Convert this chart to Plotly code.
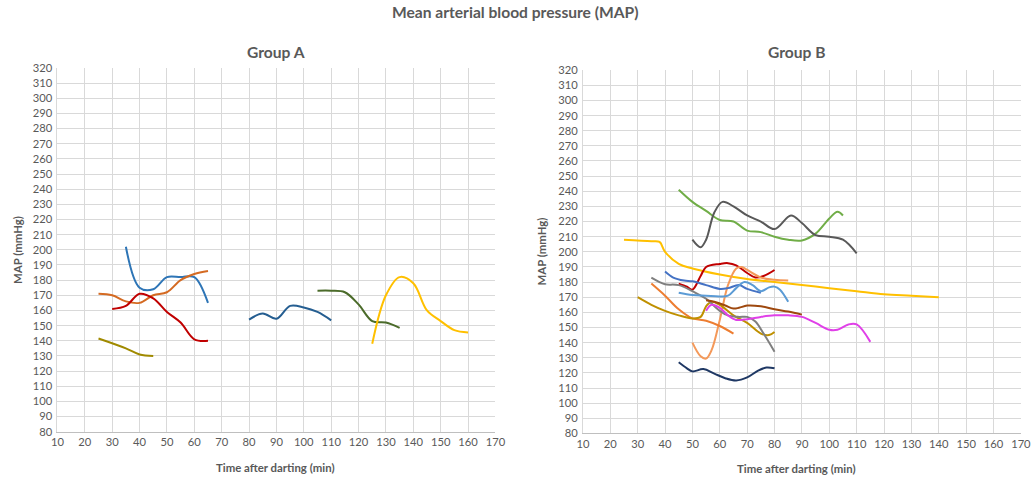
import plotly.graph_objects as go

# ---------------- data ----------------
# Group A series (time in min, MAP in mmHg)
a1_x = [35, 40, 45, 50, 55, 60, 65]
a1_y = [202, 175, 174, 182, 182, 182, 165]
a2_x = [25, 30, 35, 40, 45, 50, 55, 60, 65]
a2_y = [171, 170, 166, 165, 170, 172, 180, 184, 186]
a3_x = [30, 35, 40, 45, 50, 55, 60, 65]
a3_y = [161, 163, 171, 168, 159, 152, 141, 140]
a4_x = [25, 35, 40, 45]
a4_y = [141.5, 135, 131, 130]
a5_x = [80, 85, 90, 95, 100, 105, 110]
a5_y = [154, 158, 154.5, 163, 162, 159, 153.5]
a6_x = [105, 110, 115, 120, 125, 130, 135]
a6_y = [173, 173, 172, 164, 153, 152, 148.5]
a7_x = [125, 130, 135, 140, 145, 150, 155, 160]
a7_y = [138, 170, 182, 178, 160, 153, 147, 145.5]

# Group B series
b1_x = [45, 50, 55, 60, 65, 70, 75, 80, 85, 90, 95, 100, 103, 105]
b1_y = [241, 233, 227, 221, 220, 214, 213, 210, 208, 207.5, 212, 222, 226.5, 224]
b2_x = [50, 53, 55, 58, 61, 65, 70, 75, 80, 86, 90, 95, 100, 105, 110]
b2_y = [208, 203, 208, 226, 233, 230, 224, 220, 215, 224, 219, 211, 210, 208, 199]
b3_x = [25, 35, 38, 40, 45, 50, 60, 70, 80, 90, 100, 110, 120, 130, 140]
b3_y = [208, 207, 206.5, 200, 192, 189, 185, 182, 180, 178, 176, 174, 172, 171, 170]
b4_x = [45, 48, 50, 53, 55, 60, 63, 66, 70, 73, 76, 80]
b4_y = [179, 177, 175, 184, 190, 192, 192.5, 191, 186, 183, 184, 188]
b5_x = [50, 53, 55, 57, 60, 63, 66, 68, 70, 75, 80, 85]
b5_y = [140, 131, 129.5, 135, 155, 178, 189, 190, 188, 183, 181.5, 181]
b6_x = [35, 40, 45, 50, 55, 60, 65]
b6_y = [179, 171, 162, 156, 154.5, 151, 146]
b7_x = [30, 35, 40, 45, 50, 53, 55, 57, 60, 65, 70, 75, 78, 80]
b7_y = [170, 165, 161, 158, 156, 157, 164, 167, 165, 158, 153, 146, 145, 147]
b8_x = [35, 38, 40, 45, 50, 55, 60, 63, 67, 70, 73, 76, 80]
b8_y = [183, 180, 178.5, 178, 174, 169, 161, 158, 157, 157, 154, 146, 134]
b9_x = [40, 43, 47, 50, 55, 60, 63, 67, 70, 75]
b9_y = [187, 183, 181, 180.5, 178, 175.5, 176, 178, 175.5, 173]
b10_x = [45, 50, 55, 60, 63, 66, 69, 72, 75, 78, 80, 82, 85]
b10_y = [173, 171.5, 171, 170.5, 171, 176, 180, 178, 174, 176.5, 177, 175, 167]
b11_x = [55, 58, 62, 65, 67, 70, 75, 80, 85, 90]
b11_y = [168, 167, 164.5, 162.5, 163, 164.5, 164, 162, 160.5, 158.5]
b12_x = [55, 57, 60, 63, 66, 70, 75, 80, 85, 90, 95, 100, 103, 107, 110, 115]
b12_y = [161, 165, 163, 158, 155, 155.5, 157, 158, 158, 157, 153, 148.5, 148.5, 152, 152, 140.5]
b13_x = [45, 48, 50, 54, 58, 62, 66, 70, 74, 77, 80]
b13_y = [127, 123, 121, 122.5, 119.5, 116.5, 115, 117, 121.5, 123.5, 123]

x_ticks = list(range(10, 171, 10))
y_ticks = list(range(80, 321, 10))

group_a = [
    (a1_x, a1_y, "#2E75B6"),
    (a2_x, a2_y, "#D46A22"),
    (a3_x, a3_y, "#C00000"),
    (a4_x, a4_y, "#A08A00"),
    (a5_x, a5_y, "#255E91"),
    (a6_x, a6_y, "#4B6B2A"),
    (a7_x, a7_y, "#FFC000"),
]
group_b = [
    (b1_x, b1_y, "#70AD47"),
    (b2_x, b2_y, "#595959"),
    (b3_x, b3_y, "#FFC000"),
    (b4_x, b4_y, "#C00000"),
    (b5_x, b5_y, "#F4995A"),
    (b6_x, b6_y, "#ED7D31"),
    (b7_x, b7_y, "#BF9000"),
    (b8_x, b8_y, "#7F7F7F"),
    (b9_x, b9_y, "#4472C4"),
    (b10_x, b10_y, "#5B9BD5"),
    (b11_x, b11_y, "#9E480E"),
    (b12_x, b12_y, "#E040E8"),
    (b13_x, b13_y, "#1F3864"),
]

fig = go.Figure()
for xs, ys, c in group_a:
    fig.add_trace(go.Scatter(x=xs, y=ys, mode="lines", line=dict(color=c, width=2, shape="spline"),
                             xaxis="x", yaxis="y", showlegend=False, hoverinfo="x+y"))
for xs, ys, c in group_b:
    fig.add_trace(go.Scatter(x=xs, y=ys, mode="lines", line=dict(color=c, width=2, shape="spline"),
                             xaxis="x2", yaxis="y2", showlegend=False, hoverinfo="x+y"))

W, H = 1033, 482
# the captured picture comes out slightly shrunk; compensate pixel targets
SX, OX = 0.9855, 5.8
SY, OY = 0.975, 6.7


def px(x):
    return (x - OX) / SX / W


def py(y):
    return 1 - (y - OY) / SY / H


font = "Lato, 'Open Sans', sans-serif"
tick_font = dict(family=font, size=11.2, color="#595959")
grid = "#D9D9D9"


def xax(domain, anchor):
    return dict(domain=domain, anchor=anchor, range=[10, 170], tickvals=x_ticks,
                showgrid=True, gridcolor=grid, gridwidth=1, zeroline=False,
                showline=True, linecolor="#BFBFBF", linewidth=1, mirror=False,
                tickfont=tick_font, ticks="", fixedrange=True)


def yax(domain, anchor):
    return dict(domain=domain, anchor=anchor, range=[80, 320], tickvals=y_ticks,
                showgrid=True, gridcolor=grid, gridwidth=1, zeroline=False,
                showline=True, linecolor=grid, linewidth=1,
                tickfont=tick_font, ticks="", ticklabelstandoff=2, fixedrange=True)


title_col = "#595959"


def ann(text, x, y, size, angle=0):
    return dict(text=text, x=px(x), y=py(y), xref="paper", yref="paper",
                showarrow=False, xanchor="center", yanchor="middle", textangle=angle,
                font=dict(family=font, size=size, color=title_col))


annotations = [
    ann("<b>Mean arterial blood pressure (MAP)</b>", 516, 12, 15.6),
    ann("<b>Group A</b>", 276, 52, 15.6),
    ann("<b>Group B</b>", 797, 52, 15.6),
    ann("<b>Time after darting (min)</b>", 276, 468, 11.4),
    ann("<b>Time after darting (min)</b>", 797, 469, 11.4),
    ann("<b>MAP (mmHg)</b>", 18, 250, 11.4, -90),
    ann("<b>MAP (mmHg)</b>", 542, 252, 11.4, -90),
]

fig.update_layout(
    width=W, height=H,
    margin=dict(l=0, r=0, t=0, b=0),
    paper_bgcolor="white", plot_bgcolor="white",
    xaxis=xax([px(57.3), px(495.7)], "y"),
    yaxis=yax([py(432.3), py(67.7)], "x"),
    xaxis2=xax([px(583.3), px(1021.7)], "y2"),
    yaxis2=yax([py(434), py(70)], "x2"),
    annotations=annotations,
    font=dict(family=font),
)

fig.write_html("out.html", config={"displayModeBar": False},
               post_script="document.body.style.margin='0';document.body.style.overflow='hidden';")
